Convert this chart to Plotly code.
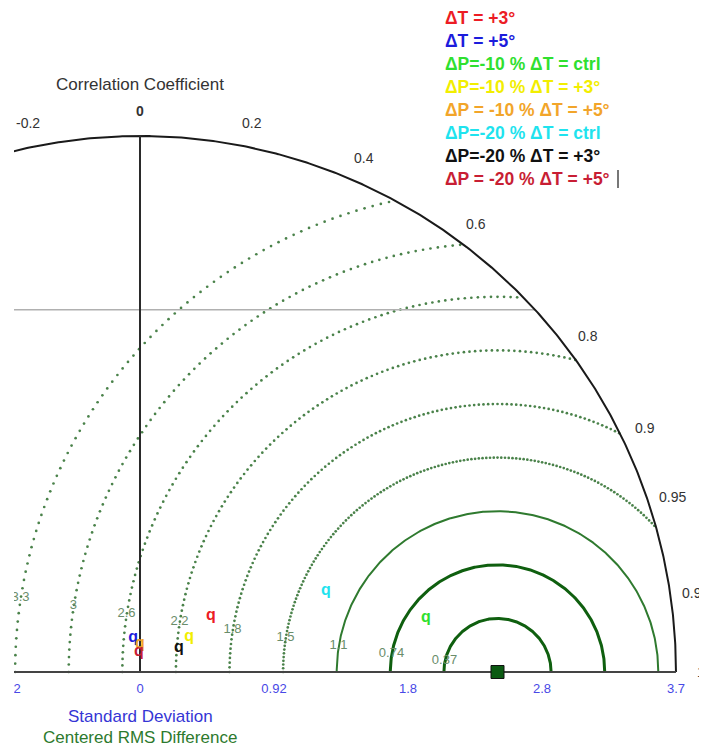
import numpy as np
import plotly.graph_objects as go

# ---------------- data ----------------
series_names = ["ΔT = +3°", "ΔT = +5°", "ΔP=-10 % ΔT = ctrl", "ΔP=-10 % ΔT = +3°",
                "ΔP = -10 % ΔT = +5°", "ΔP=-20 % ΔT = ctrl", "ΔP=-20 % ΔT = +3°",
                "ΔP = -20 % ΔT = +5°"]
series_std = [0.624, 0.240, 2.009, 0.416, 0.193, 1.400, 0.316, 0.138]
series_corr = [0.785, -0.20, 0.9826, 0.814, 0.0, 0.917, 0.851, -0.05]
series_colors = ["#ec1c24", "#1c1cdc", "#2fe02f", "#f2ee00", "#f2a52a",
                 "#1fe3ee", "#111111", "#c81e34"]

ref_std = 2.468
max_std = 3.7
rms_levels = [0.37, 0.74, 1.11, 1.48, 1.85, 2.22, 2.59, 2.96, 3.33]
rms_labels = ["0.37", "0.74", "1.1", "1.5", "1.8", "2.2", "2.6", "3", "3.3"]
corr_ticks = [-0.2, 0.0, 0.2, 0.4, 0.6, 0.8, 0.9, 0.95, 0.99, 1.0]
corr_labels = ["-0.2", "0", "0.2", "0.4", "0.6", "0.8", "0.9", "0.95", "0.99", "1"]
std_ticks = [-0.925, 0.0, 0.925, 1.85, 2.775, 3.7]
std_labels = ["-0.92", "0", "0.92", "1.8", "2.8", "3.7"]
guide_line_y = 2.5

# ---------------- geometry ----------------
# the page body has an 8px margin, so the figure is drawn 8px smaller and
# everything is positioned relative to the browser window via PAD
PAD = 8
W, H = 707 - PAD, 747 - PAD
S = 144.86            # px per std unit
OX, OY = 140 - PAD, 672 - PAD     # origin in figure px
L = 14 - PAD                      # left clip
xr = [(L - OX) / S, (W - OX) / S]
yr = [(OY - H) / S, OY / S]
FONT = "Arial, Liberation Sans, sans-serif"

def px(xp, yp):
    """window pixel -> data coords"""
    return (xp - PAD - OX) / S, (OY - (yp - PAD)) / S

fig = go.Figure()

# RMS circles
for k, (r, lab) in enumerate(zip(rms_levels, rms_labels)):
    cosmin = (max_std**2 - ref_std**2 - r**2) / (2 * ref_std * r)
    phimin = np.degrees(np.arccos(np.clip(cosmin, -1, 1)))
    if k < 3:
        phi = np.radians(np.linspace(phimin, 180, 400))
        fig.add_trace(go.Scatter(
            x=ref_std + r * np.cos(phi), y=r * np.sin(phi), mode="lines",
            line=dict(color="#0f5f0f" if k < 2 else "#2f7a2f", width=3 if k < 2 else 2),
            hoverinfo="skip", showlegend=False))
    else:
        phi = np.radians(np.arange(180, phimin, -1.0))
        fig.add_trace(go.Scatter(
            x=ref_std + r * np.cos(phi), y=r * np.sin(phi), mode="markers",
            marker=dict(color="#4a824a", size=2.7),
            hoverinfo="skip", showlegend=False))

# RMS labels
ang = np.radians(171.5)
fig.add_trace(go.Scatter(
    x=[ref_std + r * np.cos(ang) for r in rms_levels],
    y=[r * np.sin(ang) + 0.02 for r in rms_levels],
    text=rms_labels, mode="text", textposition="middle center",
    textfont=dict(color="#6a8d6a", size=13, family=FONT),
    hoverinfo="skip", showlegend=False, cliponaxis=True))

# guide horizontal line
fig.add_trace(go.Scatter(
    x=[xr[0], np.sqrt(max_std**2 - guide_line_y**2)], y=[guide_line_y, guide_line_y],
    mode="lines", line=dict(color="#b0b0b0", width=1.5), hoverinfo="skip", showlegend=False))

# outer arc
th = np.linspace(0, np.arccos(-0.26), 400)
fig.add_trace(go.Scatter(x=max_std * np.cos(th), y=max_std * np.sin(th), mode="lines",
                         line=dict(color="#1a1a1a", width=2), hoverinfo="skip", showlegend=False))
# vertical (corr 0) and baseline
fig.add_trace(go.Scatter(x=[0, 0], y=[0, max_std], mode="lines",
                         line=dict(color="#2a2a2a", width=2), hoverinfo="skip", showlegend=False))
fig.add_trace(go.Scatter(x=[xr[0], max_std], y=[0, 0], mode="lines",
                         line=dict(color="#444444", width=2), hoverinfo="skip", showlegend=False))

# std tick labels
fig.add_trace(go.Scatter(
    x=std_ticks, y=[-18 / S] * len(std_ticks), text=std_labels, mode="text",
    textfont=dict(color="#4848e6", size=13, family=FONT),
    hoverinfo="skip", showlegend=False, cliponaxis=True))

# reference point
fig.add_trace(go.Scatter(x=[ref_std], y=[0], mode="markers",
                         marker=dict(symbol="square", size=13, color="#0b5a12",
                                     line=dict(color="#111", width=1)),
                         hoverinfo="skip", showlegend=False))

# model points
for n, s_, c_, col in zip(series_names, series_std, series_corr, series_colors):
    fig.add_trace(go.Scatter(
        x=[s_ * c_], y=[s_ * np.sin(np.arccos(c_))], mode="text", text=["<b>q</b>"],
        textposition="middle center", textfont=dict(color=col, size=16, family=FONT),
        name=n, showlegend=False))

ann = []
# correlation labels
RL = 3.87
for c, lab in zip(corr_ticks, corr_labels):
    t = np.arccos(c)
    ann.append(dict(x=RL * np.cos(t), y=RL * np.sin(t),
                    text=("<b>%s</b>" % lab) if lab == "0" else lab,
                    showarrow=False, xanchor="center", yanchor="middle",
                    font=dict(size=14, color="#333333", family=FONT)))
x0, y0 = px(140, 84)
ann.append(dict(x=x0, y=y0, text="Correlation Coefficient", showarrow=False,
                font=dict(size=17, color="#333333", family=FONT)))
x0, y0 = px(140, 716)
ann.append(dict(x=x0, y=y0, text="Standard Deviation", showarrow=False,
                font=dict(size=17, color="#3535d5", family=FONT)))
x0, y0 = px(140, 737)
ann.append(dict(x=x0, y=y0, text="Centered RMS Difference", showarrow=False,
                font=dict(size=17, color="#2d7a2d", family=FONT)))

# legend text
leg_y = [18, 41, 64, 87, 110, 133, 156, 179]
for n, col, yy in zip(series_names, series_colors, leg_y):
    x0, y0 = px(443, yy)
    ann.append(dict(x=x0, y=y0, text="<b>%s</b>" % n, showarrow=False,
                    xanchor="left", yanchor="middle",
                    font=dict(size=17.5, color=col, family=FONT)))

shapes = []
xa, ya = px(618, 170)
xb, yb = px(618, 188)
shapes.append(dict(type="line", x0=xa, y0=ya, x1=xb, y1=yb,
                   line=dict(color="#777777", width=2)))

fig.update_layout(
    width=W, height=H, margin=dict(l=L, r=0, t=0, b=0),
    paper_bgcolor="white", plot_bgcolor="white",
    xaxis=dict(range=xr, visible=False, fixedrange=True),
    yaxis=dict(range=yr, visible=False, fixedrange=True),
    annotations=ann, shapes=shapes, showlegend=False,
)

fig.write_html("out.html")
